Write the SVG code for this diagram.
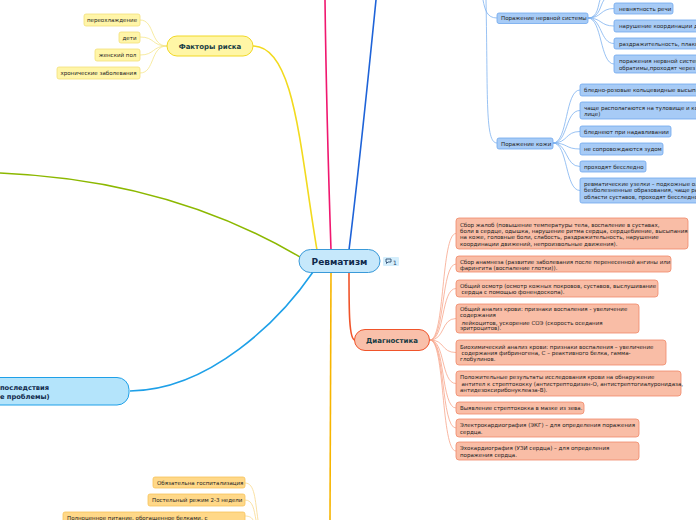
<svg xmlns="http://www.w3.org/2000/svg" width="696" height="520" viewBox="0 0 696 520">
<style>
.t{font-family:"DejaVu Sans",Verdana,sans-serif;font-size:5.5px;fill:#222222}
.b{font-family:"DejaVu Sans",Verdana,sans-serif;font-weight:bold;fill:#173c44}
.fy{fill:#fff5a8;stroke:#f3e07a;stroke-width:0.8}
.fb{fill:#a7cbf6;stroke:#6fa7ee;stroke-width:0.8}
.fr{fill:#f9bda6;stroke:#f0896a;stroke-width:0.8}
.fo{fill:#ffd888;stroke:#f6c35a;stroke-width:0.8}
.c{fill:none;stroke-width:0.8}
.m{fill:none;stroke-width:1.6}
</style>
<rect width="696" height="520" fill="#ffffff"/>
<g id="connectors">
  <path class="m" stroke="#f2da1e" d="M317,250 C300,150 295,46 253,46"/>
  <path class="m" stroke="#f0176f" d="M331,250 C328,160 326,80 325,0"/>
  <path class="m" stroke="#1e63d8" d="M349,250 C360,160 368,80 376,0"/>
  <path class="m" stroke="#8cb800" d="M300,257 C220,210 120,178 0,173"/>
  <path class="m" stroke="#1ea0e8" d="M313,272 C280,320 210,390 130,391"/>
  <path class="m" stroke="#f7b500" d="M331,273 L330,520"/>
  <path class="m" stroke="#f0542a" d="M349,273 C349,310 349,340 355,340"/>
  <g stroke="#f5e68a">
    <path class="c" d="M167,46 C150,46 155,20 140,20"/>
    <path class="c" d="M167,46 C152,46 155,37 140,37"/>
    <path class="c" d="M167,46 C152,46 155,55 140,55"/>
    <path class="c" d="M167,46 C150,46 155,73 140,73"/>
  </g>
  <g stroke="#7fb2f0">
    <path class="c" d="M483,0 C485,10 487,18 497,18"/>
    <path class="c" d="M486,0 C488,100 485,143 497,143"/>
    <path class="c" d="M588,18 C598,18 598,5 600,0"/>
    <path class="c" d="M588,18 C600,18 600,5 604,0"/>
    <path class="c" d="M588,18 C602,18 600,8.5 614,8.5"/>
    <path class="c" d="M588,18 C602,18 600,26 614,26"/>
    <path class="c" d="M588,18 C602,18 600,43.5 614,43.5"/>
    <path class="c" d="M588,18 C602,18 600,64 614,64"/>
    <path class="c" d="M553,143 C568,143 565,90 580,90"/>
    <path class="c" d="M553,143 C568,143 565,110.5 580,110.5"/>
    <path class="c" d="M553,143 C568,143 565,131.5 580,131.5"/>
    <path class="c" d="M553,143 C568,143 565,149 580,149"/>
    <path class="c" d="M553,143 C568,143 565,166.5 580,166.5"/>
    <path class="c" d="M553,143 C568,143 565,190.5 580,190.5"/>
  </g>
  <g stroke="#f7a68c">
    <path class="c" d="M430,340 C445,340 441,233.5 456,233.5"/>
    <path class="c" d="M430,340 C445,340 441,264 456,264"/>
    <path class="c" d="M430,340 C445,340 441,288.5 456,288.5"/>
    <path class="c" d="M430,340 C445,340 441,318.5 456,318.5"/>
    <path class="c" d="M430,340 C445,340 441,352.5 456,352.5"/>
    <path class="c" d="M430,340 C445,340 441,383.5 456,383.5"/>
    <path class="c" d="M430,340 C445,340 441,408 456,408"/>
    <path class="c" d="M430,340 C445,340 441,428 456,428"/>
    <path class="c" d="M430,340 C445,340 441,451 456,451"/>
  </g>
  <g stroke="#f9d98e">
    <path class="c" d="M245,483 C255,483 255,500 258,520"/>
    <path class="c" d="M245,500 C253,500 254,510 256,520"/>
    <path class="c" d="M245,516 C250,516 252,518 253,520"/>
  </g>
</g>
<g id="center">
  <rect x="299" y="249.5" width="81" height="23" rx="11.5" fill="#c6e8fb" stroke="#3a9ad9" stroke-width="1"/>
  <text class="b" x="339.5" y="264.5" font-size="9" text-anchor="middle" style="fill:#102a4c">Ревматизм</text>
</g>
<g id="badge">
  <rect x="383" y="257" width="16" height="9" rx="1" fill="#d4eefc"/>
  <path d="M386,259 h5 v3 h-3 l-1.5,1.5 v-1.5 h-0.5 z" fill="none" stroke="#1d3d66" stroke-width="0.8"/>
  <text x="393" y="264.5" font-family="DejaVu Sans,sans-serif" font-size="6" fill="#1d3d66">1</text>
</g>
<g id="risk">
  <rect x="167" y="36" width="86" height="20" rx="10" fill="#fff6a6" stroke="#f1d826" stroke-width="1"/>
  <text class="b" x="210" y="48.5" font-size="7" text-anchor="middle">Факторы риска</text>
</g>
<g id="risk-leaves">
  <rect class="fy" x="84" y="14" width="56" height="12" rx="2"/>
  <text class="t" x="112" y="22" text-anchor="middle">переохлаждение</text>
  <rect class="fy" x="119" y="32" width="21" height="11" rx="2"/>
  <text class="t" x="129.5" y="39.5" text-anchor="middle">дети</text>
  <rect class="fy" x="95" y="49" width="45" height="12" rx="2"/>
  <text class="t" x="117.5" y="57" text-anchor="middle">женский пол</text>
  <rect class="fy" x="57" y="67" width="83" height="12" rx="2"/>
  <text class="t" x="98.5" y="75" text-anchor="middle">хронические заболевания</text>
</g>
<g id="nervous">
  <rect class="fb" x="497" y="13" width="91" height="10.5" rx="2"/>
  <text class="t" x="501" y="20.2">Поражение нервной системы</text>
</g>
<g id="nervous-leaves">
  <rect class="fb" x="614" y="3" width="59" height="11" rx="2"/>
  <text class="t" x="619" y="10.5">невнятность речи</text>
  <rect class="fb" x="614" y="20" width="90" height="12" rx="2"/>
  <text class="t" x="619" y="28">нарушение координации д</text>
  <rect class="fb" x="614" y="38" width="90" height="11" rx="2"/>
  <text class="t" x="619" y="45.5">раздражительность, плакс</text>
  <rect class="fb" x="614" y="55" width="90" height="18" rx="2"/>
  <text class="t" x="619" y="62.5">поражения нервной систем</text>
  <text class="t" x="619" y="69.5">обратимы,проходят через</text>
</g>
<g id="skin">
  <rect class="fb" x="497" y="138" width="56" height="11" rx="2"/>
  <text class="t" x="501" y="145.5">Поражение кожи</text>
</g>
<g id="skin-leaves">
  <rect class="fb" x="580" y="84" width="120" height="12" rx="2"/>
  <text class="t" x="584" y="92">бледно-розовые кольцевидные высыпа</text>
  <rect class="fb" x="580" y="102" width="120" height="17" rx="2"/>
  <text class="t" x="584" y="109.5">чаще располагаются на туловище и ко</text>
  <text class="t" x="584" y="116">лице)</text>
  <rect class="fb" x="580" y="126" width="91" height="11" rx="2"/>
  <text class="t" x="584" y="133.5">бледнеют при надавливании</text>
  <rect class="fb" x="580" y="143" width="83" height="12" rx="2"/>
  <text class="t" x="584" y="151">не сопровождаются зудом</text>
  <rect class="fb" x="580" y="161" width="66" height="11" rx="2"/>
  <text class="t" x="584" y="168.5">проходят бесследно</text>
  <rect class="fb" x="580" y="178" width="120" height="25" rx="2"/>
  <text class="t" x="584" y="185.5">ревматические узелки – подкожные ол</text>
  <text class="t" x="584" y="192">безболезненные образования, чаще ра</text>
  <text class="t" x="584" y="198.5">области суставов, проходят бесследно</text>
</g>
<g id="diagnosis">
  <rect x="354.5" y="329.5" width="75" height="21" rx="10.5" fill="#f9c0aa" stroke="#f0542a" stroke-width="1"/>
  <text class="b" x="392" y="342.5" font-size="7" text-anchor="middle">Диагностика</text>
</g>
<g id="diagnosis-leaves">
  <rect class="fr" x="456" y="218" width="232" height="31" rx="3"/>
  <text class="t" x="460" y="227">Сбор жалоб (повышение температуры тела, воспаление в суставах,</text>
  <text class="t" x="460" y="233.2">боли в сердце, одышка, нарушение ритма сердца, сердцебиение, высыпания</text>
  <text class="t" x="460" y="239.4">на коже, головные боли, слабость, раздражительность, нарушение</text>
  <text class="t" x="460" y="245.6">координации движений, непроизвольные движения).</text>
  <rect class="fr" x="456" y="256" width="215" height="16" rx="3"/>
  <text class="t" x="460" y="264.3">Сбор анамнеза (развитие заболевания после перенесенной ангины или</text>
  <text class="t" x="460" y="270.3">фарингита (воспаление глотки)).</text>
  <rect class="fr" x="456" y="280" width="202" height="17" rx="3"/>
  <text class="t" x="460" y="288">Общий осмотр (осмотр кожных покровов, суставов, выслушивание</text>
  <text class="t" x="461.5" y="294">сердца с помощью фонендоскопа).</text>
  <rect class="fr" x="456" y="304" width="183" height="29" rx="3"/>
  <text class="t" x="460" y="311.3">Общий анализ крови: признаки воспаления - увеличение</text>
  <text class="t" x="460" y="317">содержания</text>
  <text class="t" x="461.5" y="324.5">лейкоцитов, ускорение СОЭ (скорость оседания</text>
  <text class="t" x="460" y="330.3">эритроцитов).</text>
  <rect class="fr" x="456" y="340" width="210" height="25" rx="3"/>
  <text class="t" x="460" y="348.7">Биохимический анализ крови: признаки воспаления – увеличение</text>
  <text class="t" x="461.5" y="355">содержания фибриногена, С – реактивного белка, гамма-</text>
  <text class="t" x="460" y="361.3">глобулинов.</text>
  <rect class="fr" x="456" y="371" width="225" height="25" rx="3"/>
  <text class="t" x="460" y="379.3">Положительные результаты исследования крови на обнаружение</text>
  <text class="t" x="461.5" y="386">антител к стрептококку (антистрептодизин-О, антистрептогиалуронидаза,</text>
  <text class="t" x="460" y="392">антидезоксирибонуклеаза-В).</text>
  <rect class="fr" x="456" y="402" width="128" height="12" rx="3"/>
  <text class="t" x="460" y="409.8">Выявление стрептококка в мазке из зева.</text>
  <rect class="fr" x="456" y="419" width="183" height="18" rx="3"/>
  <text class="t" x="460" y="427">Электрокардиография (ЭКГ) – для определения поражения</text>
  <text class="t" x="460" y="433.7">сердца.</text>
  <rect class="fr" x="456" y="442" width="183" height="18" rx="3"/>
  <text class="t" x="460" y="450.3">Эхокардиография (УЗИ сердца) – для определения</text>
  <text class="t" x="460" y="457">поражения сердца.</text>
</g>
<g id="consequences">
  <rect x="-60" y="377.5" width="189" height="27.5" rx="12" fill="#b4e4fb" stroke="#1ea0e8" stroke-width="1"/>
  <text class="b" x="0" y="389.5" font-size="6.7" style="fill:#102a4c">последствия</text>
  <text class="b" x="0" y="399" font-size="6.7" style="fill:#102a4c">е проблемы)</text>
</g>
<g id="treatment-leaves">
  <rect class="fo" x="153" y="477" width="92" height="11" rx="2"/>
  <text class="t" x="157" y="484.5">Обязательна госпитализация</text>
  <rect class="fo" x="148" y="494" width="97" height="12" rx="2"/>
  <text class="t" x="152" y="502">Постельный режим 2-3 недели</text>
  <rect class="fo" x="63" y="512" width="182" height="14" rx="2"/>
  <text class="t" x="67" y="519.5">Полноценное питание, обогащенное белками, с</text>
</g>
</svg>
